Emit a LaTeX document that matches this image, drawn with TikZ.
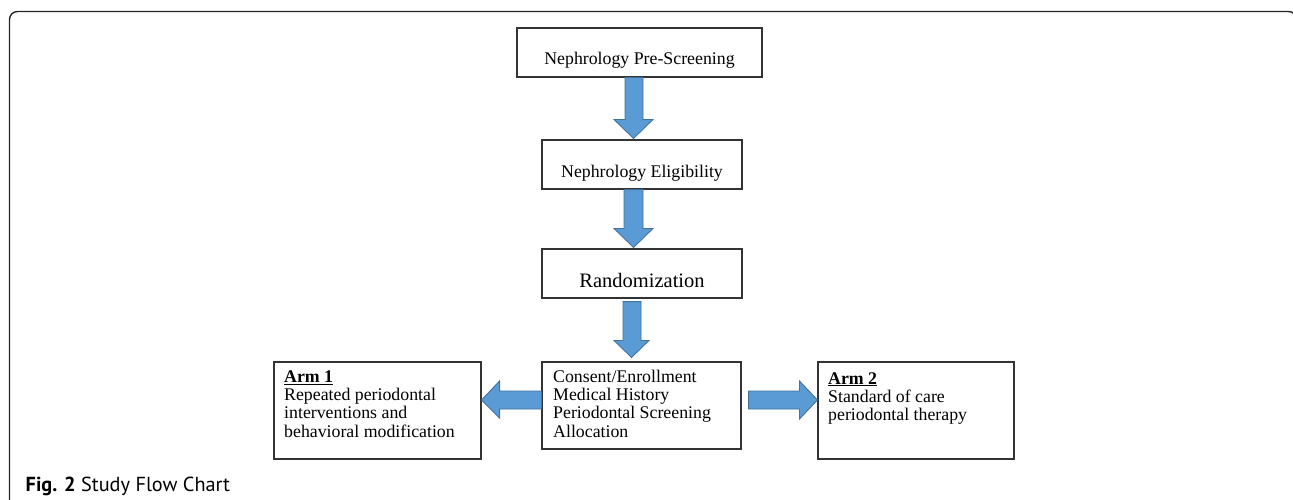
\documentclass[tikz,border=0pt]{standalone}
\usepackage{fontspec}
\setmainfont{Liberation Serif}
\newfontfamily\capfont{PT Sans}
\usetikzlibrary{calc}
\definecolor{arrowfill}{HTML}{5B9BD5}
\definecolor{arrowline}{HTML}{41719C}
\definecolor{boxline}{HTML}{333333}
\tikzset{
  box/.style={draw=boxline, line width=1.1pt, fill=white, inner sep=0pt},
  txt/.style={inner sep=0pt, font=\fontsize{17.8}{18.3}\selectfont},
  bigtxt/.style={inner sep=0pt, font=\fontsize{20.5}{22}\selectfont},
  blockarrow/.style={fill=arrowfill, draw=arrowline, line width=0.9pt, line join=miter},
  frame/.style={draw=black!85, line width=1.4pt, rounded corners=8pt},
}
\begin{document}
\begin{tikzpicture}[x=1pt,y=1pt]
\useasboundingbox (0,0) rectangle (1293,-499);
\draw[frame] (9.5,-520) -- (9.5,-11.5) -- (1296.5,-11.5) -- (1296.5,-520);

% boxes
\node[box, minimum width=245pt, minimum height=49pt] (pre)  at (639.5,-52.5) {};
\node[box, minimum width=200pt, minimum height=49pt] (elig) at (642,-164.5) {};
\node[box, minimum width=200pt, minimum height=49pt] (rand) at (642,-273.5) {};
\node[box, minimum width=199pt, minimum height=87pt] (cons) at (641.5,-405.5) {};
\node[box, minimum width=207pt, minimum height=97pt] (arm1) at (377.5,-410.5) {};
\node[box, minimum width=196pt, minimum height=97pt] (arm2) at (916,-410.5) {};

% texts (base of a multi-line node = its last line)
\node[txt, anchor=base] (pretxt) at (639.5,-64) {Nephrology Pre-Screening};
\node[txt, anchor=base] (eligtxt) at (642,-177) {Nephrology Eligibility};
\node[bigtxt, anchor=base] (randtxt) at (642,-287) {Randomization};
\node[txt, anchor=base west, align=left] (constxt) at (553,-437.2)
  {Consent/Enrollment\\Medical History\\Periodontal Screening\\Allocation};
\node[txt, anchor=base west, align=left] (arm1txt) at (284,-437.2)
  {\underline{\textbf{Arm 1}}\\Repeated periodontal\\interventions and\\behavioral modification};
\node[txt, anchor=base west, align=left] (arm2txt) at (828,-420.6)
  {\underline{\textbf{Arm 2}}\\Standard of care\\periodontal therapy};

% vertical block arrows
\draw[blockarrow] let \p1=(pre.south), \p2=(elig.north) in
  (625,\y1) -- (625pt,\y2+20pt) -- (614pt,\y2+20pt) -- (633.5pt,\y2+1pt) -- (653pt,\y2+20pt) -- (643pt,\y2+20pt) -- (643,\y1) -- cycle;
\draw[blockarrow] let \p1=(elig.south), \p2=(rand.north) in
  (624,\y1) -- (624pt,\y2+20pt) -- (614pt,\y2+20pt) -- (633.5pt,\y2+1pt) -- (653pt,\y2+20pt) -- (643pt,\y2+20pt) -- (643,\y1) -- cycle;
\draw[blockarrow] let \p1=(rand.south), \p2=(cons.north) in
  (623,\y1-3pt) -- (623pt,\y2+21pt) -- (614pt,\y2+21pt) -- (631.5pt,\y2+4pt) -- (649pt,\y2+21pt) -- (641pt,\y2+21pt) -- (641,\y1-3pt) -- cycle;

% horizontal block arrows
\draw[blockarrow] let \p1=(cons.west), \p2=(arm1.east) in
  (\x1,-391) -- (\x2+18pt,-391) -- (\x2+18pt,-381) -- (\x2,-400) -- (\x2+18pt,-418) -- (\x2+18pt,-409) -- (\x1,-409) -- cycle;
\draw[blockarrow] let \p1=(cons.east), \p2=(arm2.west) in
  (\x1+7pt,-391) -- (\x2-18pt,-391) -- (\x2-18pt,-381) -- (\x2,-400) -- (\x2-18pt,-419) -- (\x2-18pt,-409) -- (\x1+7pt,-409) -- cycle;

% caption
\node[anchor=base west, inner sep=0pt, font=\capfont\fontsize{20.3}{24}\selectfont] (caption) at (25.5,-491.5)
  {\textbf{Fig. 2} Study Flow Chart};
\end{tikzpicture}
\end{document}
